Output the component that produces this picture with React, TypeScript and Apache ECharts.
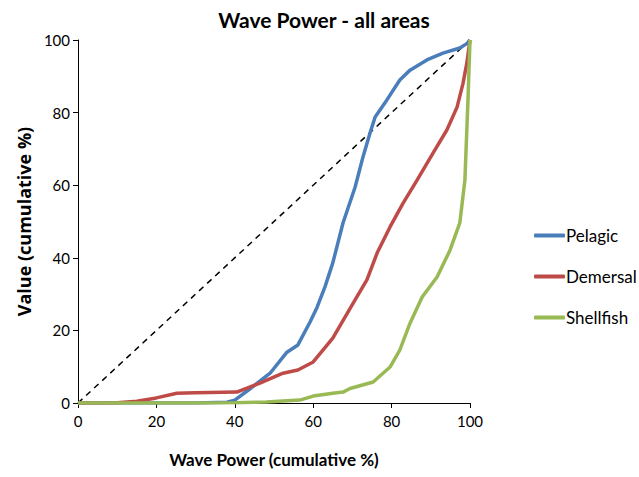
import React, { useEffect, useRef } from "react";
import * as echarts from "echarts";

const xTicks = [0, 20, 40, 60, 80, 100];
const seriesNames = ["Pelagic", "Demersal", "Shellfish"];

const pelagicX = [0, 10, 20, 30, 38, 40, 44, 49, 53.3, 56.1, 59.2, 61, 63, 65, 67.6, 70.7, 72.7, 74.5, 75.8, 78.8, 82.1, 84.7, 89, 93.1, 97.4, 99.2, 100];
const pelagicY = [0, 0, 0, 0, 0.2, 0.8, 4, 8.2, 14, 16, 22.3, 26.4, 32, 38.6, 49.6, 59.5, 67.8, 74.4, 78.8, 83.5, 89, 91.7, 94.5, 96.4, 97.8, 99, 100];

const demersalX = [0, 10, 15, 20, 25.2, 30, 40.5, 46.4, 52.3, 56.1, 60, 65, 70.2, 73.7, 76.3, 79.6, 82.9, 86.5, 90.6, 94.1, 96.7, 98.2, 99.2, 100];
const demersalY = [0, 0.1, 0.5, 1.4, 2.7, 2.8, 3.0, 5.5, 8.2, 9.1, 11.3, 17.9, 27.5, 33.9, 41.3, 48.5, 55, 61.4, 68.9, 75.2, 81.5, 88, 93.7, 100];

const shellfishX = [0, 20, 40, 48, 56.6, 60, 65, 67.6, 69.4, 75.3, 79.6, 82.1, 84.7, 87.8, 91.6, 94.9, 97.4, 98.7, 99.5, 100];
const shellfishY = [0, 0, 0.1, 0.3, 0.8, 1.9, 2.7, 3.0, 4, 5.8, 9.9, 14.6, 22, 29.2, 34.7, 42.1, 49.6, 61.4, 84, 100];

const diagonalX = [0, 100];
const diagonalY = [0, 100];

const colors = ["#4A7EBB", "#BE4B48", "#98B954"];

const zip = (xs: number[], ys: number[]) => xs.map((x, i) => [x, ys[i]]);

export default function App() {
  const ref = useRef<HTMLDivElement>(null);
  useEffect(() => {
    if (!ref.current) return;
    const chart = echarts.init(ref.current, undefined, { renderer: "svg" });
    const font = "Lato, 'Open Sans', sans-serif";
    const axisCommon = {
      type: "value" as const,
      min: xTicks[0],
      max: xTicks[xTicks.length - 1],
      interval: 20,
      splitLine: { show: false },
      axisLine: { show: true, lineStyle: { color: "#000", width: 1 } },
      axisTick: { show: true, inside: false, length: 5, lineStyle: { color: "#000" } },
      axisLabel: { color: "#000", fontSize: 15, fontFamily: font },
      nameLocation: "middle" as const,
      nameTextStyle: { color: "#000", fontSize: 17, fontWeight: "bold" as const, fontFamily: font },
    };
    chart.setOption({
      animation: false,
      backgroundColor: "#fff",
      title: {
        text: "Wave Power - all areas",
        left: 319,
        textAlign: "center",
        top: 4,
        textStyle: { color: "#000", fontSize: 21, fontWeight: "bold", fontFamily: font },
      },
      grid: { left: 78, right: 169, top: 40, bottom: 74 },
      xAxis: { ...axisCommon, name: "Wave Power (cumulative %)", nameGap: 48, axisLabel: { ...axisCommon.axisLabel, margin: 10 } },
      yAxis: {
        ...axisCommon,
        name: "Value (cumulative %)",
        nameGap: 45,
        axisLabel: { ...axisCommon.axisLabel, margin: 8 },
        nameTextStyle: { color: "#000", fontSize: 18, fontWeight: "bold", fontFamily: "'Open Sans', sans-serif" },
      },
      legend: {
        orient: "vertical",
        left: 529,
        top: 222,
        itemWidth: 31,
        itemHeight: 4,
        itemGap: 24,
        icon: "roundRect",
        data: seriesNames,
        textStyle: { color: "#000", fontSize: 17, fontFamily: font, padding: [0, 0, 0, -4] },
      },
      series: [
        {
          type: "line",
          name: "diag",
          data: zip(diagonalX, diagonalY),
          symbol: "none",
          lineStyle: { color: "#000", width: 1.5, type: [6, 5] },
          silent: true,
        },
        ...seriesNames.map((n, i) => ({
          type: "line",
          name: n,
          data: [zip(pelagicX, pelagicY), zip(demersalX, demersalY), zip(shellfishX, shellfishY)][i],
          symbol: "none",
          color: colors[i],
          lineStyle: { color: colors[i], width: 3.5 },
        })),
      ],
    });
    return () => chart.dispose();
  }, []);
  return <div ref={ref} style={{ width: 639, height: 477, position: "absolute", left: 0, top: 0 }} />;
}
